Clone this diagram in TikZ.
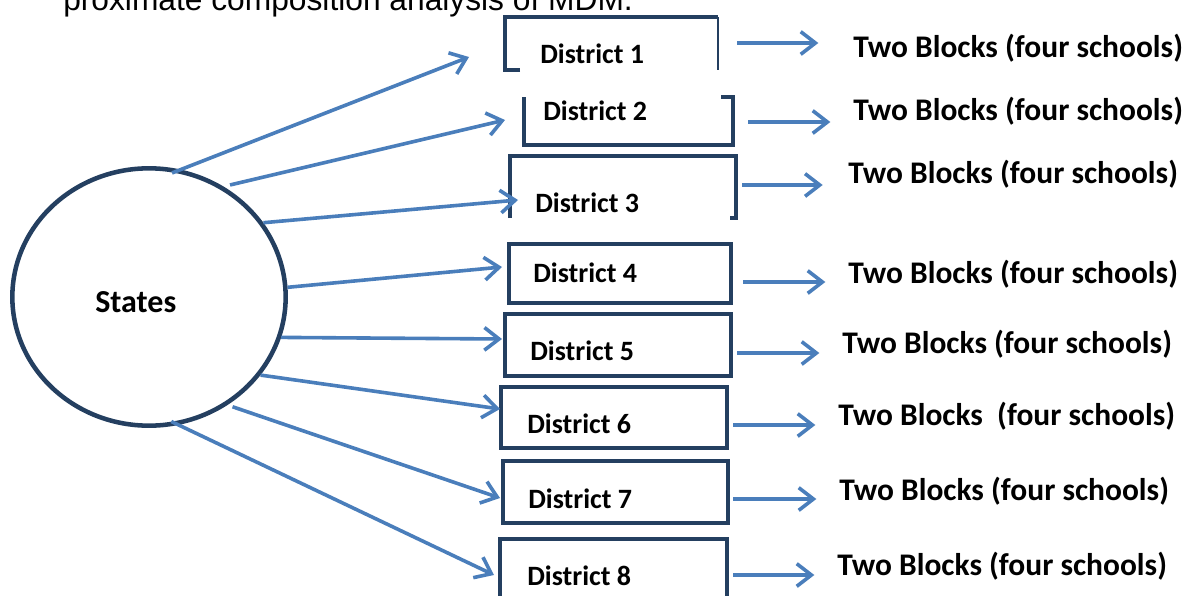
\documentclass[tikz,border=0pt]{standalone}
\usepackage{fontspec}
\setmainfont{Carlito}
\newfontfamily\captionfont{Liberation Sans}
\definecolor{DNavy}{HTML}{243F60}
\definecolor{DArrow}{HTML}{4A7EBB}
\usetikzlibrary{arrows.meta,calc,shapes.geometric}

\begin{document}
\begin{tikzpicture}[x=0.75pt,y=-0.75pt,
    arr/.style={draw=DArrow,line width=2.7pt,-{Straight Barb[length=11pt,width=17pt]}},
    dline/.style={draw=DNavy,line width=3.4pt},
    dbox/.style={rectangle,dline,inner sep=0pt,outer sep=0pt},
    openbox/.style={dbox,draw=none},
    lbl/.style={inner sep=0pt,anchor=base west,font=\bfseries\fontsize{21}{25}\selectfont},
    blk/.style={lbl,font=\bfseries\fontsize{23.6}{28}\selectfont}]
  \useasboundingbox (0,0) rectangle (1192,596);
  \clip (0,0) rectangle (1192,596);
  % caption line, cut off at the top
  \node[inner sep=0pt,anchor=base west,font=\captionfont\fontsize{23.8}{28}\selectfont]
    (caption) at (63,11) {proximate composition analysis of MDM.};
  % states
  \node[ellipse,dline,minimum width=205pt,minimum height=193pt,inner sep=0pt] (states) at (149,297) {};
  \node[lbl,font=\bfseries\fontsize{24}{28}\selectfont] (statestxt) at (95,312) {States};
  % district boxes
  \foreach \n/\cx/\cy/\w/\h/\st in {1/611.5/43.5/213/53/openbox, 2/628.5/121/209/48/openbox,
      3/623/187/226/62/openbox, 4/620/273.5/222/59/dbox, 5/618/345/226/62/dbox,
      6/614/417.5/226/61/dbox, 7/615.5/492/225/62/dbox, 8/613.5/570/227/62/dbox}
    \node[\st,minimum width=\w*0.75pt,minimum height=\h*0.75pt] (box\n) at (\cx,\cy) {};
  % the first three boxes are not closed
  \draw[dline] ($(box1.south west)+(15,0)$) -- (box1.south west) -- (box1.north west) -- (box1.north east);
  \draw[dline,line width=1.6pt] (box1.north east) -- (box1.south east);
  \draw[dline] ($(box2.north east)+(-12,0)$) -- (box2.north east) -- (box2.south east)
    -- (box2.south west) -- (box2.north west);
  \draw[dline] (box3.south west) -- (box3.north west) -- (box3.north east) -- (box3.south east) -- ++(-6,0);
  \foreach \n/\x/\y in {1/540/63, 2/543/120, 3/535/212, 4/533/282, 5/530/360, 6/527/433, 7/528/508, 8/527/585}
    \node[lbl] (d\n) at (\x,\y) {District \n};
  % blocks
  \foreach \n/\x/\y in {1/853/57, 2/853/120, 3/848/183, 4/848/283, 5/842/353, 7/839/500, 8/837/575}
    \node[blk] (t\n) at (\x,\y) {Two Blocks (four schools)};
  \node[blk] (t6) at (838,425) {Two Blocks~ (four schools)};
  % arrows
  \foreach \n/\a/\dx/\dy/\s in {1/76/-36/13.5/-7, 2/56/-19/-1/5, 3/33/8/13/0, 4/4/-7/-6.5/0,
      5/-17/-3/-6/0, 6/-35/-1/-8.5/0, 7/-54/-3/6/4, 8/-77/-6/5/-6}
    \draw[arr,shorten <=\s pt] (states.\a) -- ($(box\n.west)+(\dx,\dy)$);
  \foreach \n/\x/\y/\g in {1/737/43/26, 2/748/122/17, 3/742/185/19, 4/743/282/17,
      5/737/353/17, 6/733/425/17, 7/733/499/17, 8/733/575/17}{
    \coordinate (c\n) at (\x,\y);
    \draw[arr,shorten >=\g pt] (c\n) -- (c\n -| t\n.west);
  }
\end{tikzpicture}
\end{document}
